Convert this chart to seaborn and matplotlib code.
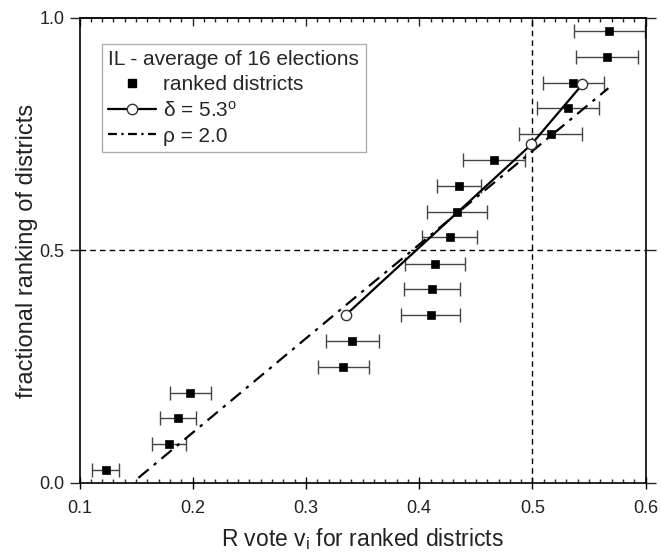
import matplotlib
matplotlib.use("Agg")
import matplotlib.pyplot as plt
import seaborn as sns
from matplotlib.lines import Line2D
from matplotlib.ticker import MultipleLocator

# ranked districts (R vote share, fractional ranking, half width of error bar)
vote = [0.123, 0.179, 0.187, 0.198, 0.333, 0.341, 0.410, 0.411, 0.414,
        0.427, 0.433, 0.435, 0.466, 0.516, 0.531, 0.536, 0.566, 0.568]
rank = [0.028, 0.083, 0.139, 0.194, 0.250, 0.306, 0.361, 0.417, 0.472,
        0.528, 0.583, 0.639, 0.694, 0.750, 0.806, 0.861, 0.917, 0.972]
vote_err = [0.012, 0.0146, 0.0157, 0.018, 0.0227, 0.0237, 0.0257, 0.0249, 0.0266,
            0.0243, 0.0264, 0.0197, 0.0275, 0.0276, 0.0274, 0.027, 0.0274, 0.031]

# delta = 5.3 deg fit
delta_v = [0.335, 0.499, 0.544]
delta_r = [0.361, 0.728, 0.857]

# rho = 2.0 curve
rho_v = [0.152, 0.335, 0.500, 0.567]
rho_r = [0.011, 0.382, 0.714, 0.849]

sns.set_style("ticks")
plt.rcParams["font.family"] = ["Liberation Sans", "DejaVu Sans"]
plt.rcParams["mathtext.fontset"] = "custom"
plt.rcParams["mathtext.rm"] = "Liberation Sans"
plt.rcParams["mathtext.it"] = "Liberation Sans"

fig = plt.figure(figsize=(6.61, 5.57), dpi=100)
ax = fig.add_axes([0.1203, 0.1329, 0.8566, 0.8348])

# reference lines
ax.axhline(0.5, color="black", lw=1.0, ls=(0, (4, 3)), zorder=1)
ax.axvline(0.5, color="black", lw=1.0, ls=(0, (4, 3)), zorder=1)

# error bars
ax.errorbar(vote, rank, xerr=vote_err, fmt="none", ecolor="#444444",
            elinewidth=1.0, capsize=5, capthick=1.0, zorder=2)

# model lines
sns.lineplot(x=rho_v, y=rho_r, ax=ax, color="black", lw=1.6,
             linestyle=(0, (6, 3, 1.5, 3)), sort=False, zorder=3)
sns.lineplot(x=delta_v, y=delta_r, ax=ax, color="black", lw=1.6,
             sort=False, zorder=4)

# markers
sns.scatterplot(x=vote, y=rank, ax=ax, marker="s", s=36, color="black",
                edgecolor="black", zorder=5)
sns.scatterplot(x=delta_v, y=delta_r, ax=ax, marker="o", s=55, color="white",
                edgecolor="#333333", linewidth=1.0, zorder=6)

ax.set_xlim(0.1, 0.6)
ax.set_ylim(0.0, 1.0)
ax.set_xticks([0.1, 0.2, 0.3, 0.4, 0.5, 0.6])
ax.set_xticklabels(["0.1", "0.2", "0.3", "0.4", "0.5", "0.6"])
ax.set_yticks([0.0, 0.5, 1.0])
ax.set_yticklabels(["0.0", "0.5", "1.0"])
ax.xaxis.set_minor_locator(MultipleLocator(0.01))

ax.tick_params(axis="x", which="major", direction="inout", length=8, width=1.0,
               labelsize=13, colors="black", labelcolor="#222222", pad=8)
ax.tick_params(axis="x", which="minor", direction="in", length=3, width=1.0)
ax.tick_params(axis="y", which="major", direction="out", length=7, width=1.0,
               labelsize=13, labelcolor="#222222", right=True, pad=4)

top = ax.secondary_xaxis("top")
top.set_xticks([0.1, 0.2, 0.3, 0.4, 0.5, 0.6])
top.xaxis.set_minor_locator(MultipleLocator(0.01))
top.tick_params(axis="x", which="major", direction="in", length=6, width=1.0,
                labeltop=False)
top.tick_params(axis="x", which="minor", direction="in", length=3, width=1.0)

for side in ["left", "bottom", "right", "top"]:
    ax.spines[side].set_visible(True)
    ax.spines[side].set_color("black")
    ax.spines[side].set_linewidth(1.2)
top.spines["top"].set_color("#555555")
top.spines["top"].set_linewidth(1.2)

ax.set_xlabel(r"R vote v$_\mathregular{i}$ for ranked districts", fontsize=16.5,
              color="#222222", labelpad=7)
ax.set_ylabel("fractional ranking of districts", fontsize=17,
              color="#222222", labelpad=1)

handles = [
    Line2D([], [], ls="none", marker="s", color="black", markersize=6),
    Line2D([], [], color="black", lw=1.6, marker="o", markersize=7.5,
           markerfacecolor="white", markeredgecolor="#333333"),
    Line2D([], [], color="black", lw=1.6, linestyle=(0, (4, 2, 1, 2))),
]
labels = ["ranked districts", "\u03b4 = 5.3$^\\mathregular{o}$", "\u03c1 = 2.0"]
leg = ax.legend(handles, labels, title="IL - average of 16 elections",
                loc="upper left", bbox_to_anchor=(0.04, 0.945), fontsize=15,
                title_fontsize=15, frameon=True, fancybox=False,
                edgecolor="#999999", handlelength=2.3, handletextpad=0.3,
                borderpad=0.3, labelspacing=0.3, borderaxespad=0.0)
leg._legend_box.align = "left"
leg.get_frame().set_linewidth(1.0)

fig.savefig("out.png", dpi=100)
